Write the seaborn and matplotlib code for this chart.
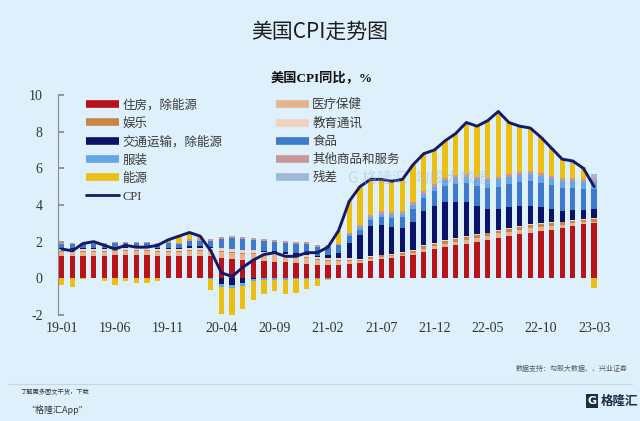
import matplotlib
matplotlib.use("Agg")
import matplotlib.pyplot as plt
from matplotlib.lines import Line2D
import numpy as np
import pandas as pd
import seaborn as sns

# monthly x-axis 2019-01 .. 2023-03
months = pd.period_range("2019-01", "2023-03", freq="M").strftime("%y-%m").tolist()
tick_labels = ["19-01", "19-06", "19-11", "20-04", "20-09", "21-02",
               "21-07", "21-12", "22-05", "22-10", "23-03"]

# CPI YoY, %
cpi = [1.6, 1.5, 1.9, 2.0, 1.8, 1.6, 1.8, 1.7, 1.7, 1.8, 2.1, 2.3,
       2.5, 2.3, 1.5, 0.3, 0.1, 0.6, 1.0, 1.3, 1.4, 1.2, 1.2, 1.4,
       1.4, 1.7, 2.6, 4.2, 5.0, 5.4, 5.4, 5.3, 5.4, 6.2, 6.8, 7.0,
       7.5, 7.9, 8.5, 8.3, 8.6, 9.1, 8.5, 8.3, 8.2, 7.7, 7.1, 6.5,
       6.4, 6.0, 5.0]

# contributions (pp)
housing = [1.2, 1.2, 1.2, 1.2, 1.2, 1.25, 1.25, 1.25, 1.25, 1.2, 1.2, 1.2,
           1.2, 1.2, 1.2, 1.1, 1.05, 1.0, 1.0, 0.95, 0.9, 0.9, 0.85, 0.8,
           0.75, 0.75, 0.75, 0.8, 0.85, 0.95, 1.05, 1.1, 1.2, 1.3, 1.45, 1.6,
           1.7, 1.8, 1.9, 2.0, 2.1, 2.2, 2.3, 2.4, 2.5, 2.6, 2.65, 2.75,
           2.85, 2.95, 3.0]
health = [0.25, 0.25, 0.25, 0.25, 0.25, 0.25, 0.25, 0.25, 0.25, 0.25, 0.25, 0.25,
          0.3, 0.3, 0.3, 0.35, 0.35, 0.35, 0.35, 0.35, 0.35, 0.3, 0.3, 0.3,
          0.25, 0.2, 0.2, 0.15, 0.1, 0.1, 0.1, 0.1, 0.1, 0.1, 0.15, 0.15,
          0.2, 0.2, 0.2, 0.2, 0.2, 0.25, 0.25, 0.25, 0.25, 0.2, 0.2, 0.15,
          0.15, 0.1, 0.1]
recreation = [0.05, 0.05, 0.05, 0.05, 0.05, 0.05, 0.05, 0.05, 0.05, 0.05, 0.05, 0.05,
              0.05, 0.05, 0.05, 0.05, 0.05, 0.05, 0.05, 0.05, 0.05, 0.05, 0.05, 0.05,
              0.05, 0.05, 0.05, 0.05, 0.05, 0.1, 0.1, 0.1, 0.1, 0.1, 0.15, 0.15,
              0.15, 0.15, 0.15, 0.15, 0.15, 0.15, 0.15, 0.15, 0.15, 0.15, 0.15, 0.15,
              0.15, 0.15, 0.15]
education = [0.1, 0.1, 0.1, 0.1, 0.1, 0.1, 0.1, 0.1, 0.1, 0.1, 0.1, 0.1,
             0.1, 0.1, 0.1, 0.15, 0.15, 0.15, 0.15, 0.1, 0.1, 0.1, 0.1, 0.1,
             0.1, 0.1, 0.1, 0.1, 0.05, 0.05, 0.05, 0.05, 0.05, 0.05, 0.05, 0.05,
             0.05, 0.05, 0.05, 0.05, 0.05, 0.05, 0.05, 0.05, 0.05, 0.05, 0.05, 0.05,
             0.05, 0.05, 0.05]
transport = [0.05, 0.05, 0.05, 0.05, 0.05, 0.05, 0.05, 0.05, 0.05, 0.05, 0.05, 0.05,
             0.1, 0.1, 0.05, -0.3, -0.35, -0.25, -0.05, 0.05, 0.1, 0.1, 0.1, 0.15,
             0.05, 0.15, 0.3, 0.85, 1.3, 1.65, 1.6, 1.45, 1.3, 1.55, 1.85, 2.0,
             2.05, 1.95, 1.85, 1.55, 1.3, 1.15, 1.15, 1.1, 1.0, 0.9, 0.75, 0.6,
             0.55, 0.5, 0.5]
food = [0.25, 0.25, 0.25, 0.25, 0.25, 0.25, 0.25, 0.25, 0.25, 0.25, 0.3, 0.25,
        0.3, 0.3, 0.35, 0.5, 0.6, 0.6, 0.55, 0.55, 0.5, 0.5, 0.5, 0.5,
        0.5, 0.45, 0.4, 0.35, 0.3, 0.35, 0.45, 0.5, 0.6, 0.7, 0.75, 0.8,
        0.9, 1.0, 1.05, 1.1, 1.15, 1.2, 1.25, 1.3, 1.35, 1.3, 1.3, 1.25,
        1.2, 1.15, 1.1]
apparel = [0.0, 0.0, 0.0, 0.0, 0.0, 0.0, 0.0, 0.0, 0.0, 0.0, 0.0, 0.0,
           0.0, 0.0, -0.05, -0.15, -0.2, -0.15, -0.1, -0.1, -0.1, -0.1, -0.05, -0.05,
           -0.05, -0.05, 0.0, 0.1, 0.15, 0.15, 0.15, 0.15, 0.15, 0.2, 0.2, 0.25,
           0.3, 0.35, 0.35, 0.35, 0.4, 0.4, 0.4, 0.4, 0.4, 0.4, 0.35, 0.35,
           0.35, 0.35, 0.35]
other = [0.05, 0.05, 0.05, 0.05, 0.05, 0.05, 0.05, 0.05, 0.05, 0.05, 0.05, 0.05,
         0.1, 0.1, 0.1, 0.1, 0.1, 0.1, 0.1, 0.1, 0.1, 0.1, 0.1, 0.1,
         0.1, 0.1, 0.1, 0.1, 0.1, 0.1, 0.15, 0.15, 0.15, 0.15, 0.15, 0.15,
         0.15, 0.15, 0.15, 0.15, 0.15, 0.15, 0.15, 0.15, 0.15, 0.15, 0.15, 0.15,
         0.15, 0.15, 0.15]
energy = [-0.35, -0.45, -0.05, 0.05, -0.15, -0.35, -0.15, -0.25, -0.25, -0.15, 0.15, 0.35,
          0.35, 0.15, -0.6, -1.5, -1.65, -1.25, -1.05, -0.75, -0.6, -0.75, -0.75, -0.55,
          -0.35, -0.05, 0.7, 1.7, 2.1, 1.95, 1.75, 1.7, 1.75, 2.05, 2.05, 1.85,
          2.0, 2.25, 2.8, 2.75, 3.1, 3.55, 2.8, 2.5, 2.35, 1.95, 1.5, 1.05,
          0.8, 0.6, -0.5]
residual = [0.0, 0.0, 0.0, 0.0, 0.0, 0.0, 0.0, 0.0, 0.0, 0.0, 0.0, 0.0,
            0.0, 0.0, 0.0, 0.0, 0.0, 0.0, 0.0, 0.0, 0.0, 0.0, 0.0, 0.0,
            0.0, 0.0, 0.0, 0.0, 0.0, 0.0, 0.0, 0.0, 0.0, 0.0, 0.0, 0.0,
            0.0, 0.0, 0.0, 0.0, 0.0, 0.0, 0.0, 0.0, 0.0, 0.0, 0.0, 0.0,
            0.15, 0.1, 0.3]

# stacking order (bottom -> top) and colours
series = [
    ("住房，除能源", housing, "#B8121B"),
    ("医疗保健", health, "#E6B48C"),
    ("娱乐", recreation, "#C98545"),
    ("教育通讯", education, "#F0D2BE"),
    ("交通运输，除能源", transport, "#0B1366"),
    ("食品", food, "#3D7ACB"),
    ("服装", apparel, "#66A6E6"),
    ("其他商品和服务", other, "#C99896"),
    ("能源", energy, "#EBC012"),
    ("残差", residual, "#9DB9D6"),
]

bg = "#DEF0FB"
line_col = "#121A6C"
serif_cjk = ["Liberation Serif", "Noto Sans CJK SC"]

sns.set_theme(style="white")
plt.rcParams["font.family"] = serif_cjk

fig = plt.figure(figsize=(6.4, 4.21), dpi=100, facecolor=bg)
ax = fig.add_axes([58 / 640, 106 / 421, 567 / 640, 220 / 421])
ax.set_facecolor(bg)

x = np.arange(len(months))
pos_bottom = np.zeros(len(x))
neg_bottom = np.zeros(len(x))
for name, vals, col in series:
    v = np.array(vals)
    bottom = np.where(v >= 0, pos_bottom, neg_bottom)
    ax.bar(x, v, bottom=bottom, width=0.5, color=col, linewidth=0)
    pos_bottom += np.where(v >= 0, v, 0)
    neg_bottom += np.where(v < 0, v, 0)

sns.lineplot(x=x, y=cpi, ax=ax, color=line_col, linewidth=2.1, zorder=5)

ax.set_xlim(-0.35, 52.9)
ax.set_ylim(-2, 10)
ax.set_yticks(range(-2, 11, 2))
ax.set_yticklabels([str(v) for v in range(-2, 11, 2)])
tick_pos = [months.index(t) for t in tick_labels]
ax.set_xticks(tick_pos)
ax.set_xticklabels(tick_labels)

for s in ["top", "right", "bottom"]:
    ax.spines[s].set_visible(False)
ax.spines["left"].set_color("#8C8C8C")
ax.spines["left"].set_linewidth(0.8)
ax.tick_params(axis="y", direction="in", length=4, color="#8C8C8C",
               labelsize=10, labelcolor="#333333", pad=11, left=True)
ax.tick_params(axis="x", length=0, labelsize=10, labelcolor="#333333", pad=5)
ax.grid(False)

# legend: two columns, column-wise fill
col1 = ["住房，除能源", "娱乐", "交通运输，除能源", "服装", "能源"]
col2 = ["医疗保健", "教育通讯", "食品", "其他商品和服务", "残差"]
colours = {name: col for name, _, col in series}
handles, labels = [], []
for nm in col1:
    handles.append(Line2D([0], [0], color=colours[nm], lw=5.5, solid_capstyle="butt"))
    labels.append(nm)
handles.append(Line2D([0], [0], color=line_col, lw=2.0))
labels.append("CPI")
for nm in col2:
    handles.append(Line2D([0], [0], color=colours[nm], lw=5.5, solid_capstyle="butt"))
    labels.append(nm)

leg = fig.legend(handles, labels, ncol=2, loc="upper left",
                 bbox_to_anchor=(86 / 640, 1 - 99 / 421), frameon=False,
                 borderpad=0, borderaxespad=0, handlelength=2.6,
                 handletextpad=0.3, labelspacing=0.49, columnspacing=4.3,
                 prop={"family": serif_cjk, "size": 9})
for t in leg.get_texts():
    t.set_color("#3A3A3A")

# titles
fig.text(0.5, 1 - 32 / 421, "美国CPI走势图", ha="center", va="center",
         fontsize=15, color="#1E1E1E", family=["Noto Sans CJK SC"])
fig.text(322 / 640, 1 - 78 / 421, "美国CPI同比，%", ha="center", va="center",
         fontsize=9.5, fontweight="bold", color="#111111", family=serif_cjk)

# faint watermark
fig.text(348 / 640, 1 - 178 / 421, "G 格隆汇  勾股大数据", ha="left", va="center",
         fontsize=11, color="#9FBCD8", alpha=0.45, family=["Noto Sans CJK SC"], zorder=0)

# footer
fig.text(628 / 640, 1 - 369 / 421, "数据支持：勾股大数据、、兴业证券", ha="right", va="center",
         fontsize=5, color="#555555", family=["Noto Sans CJK SC"])
fig.add_artist(Line2D([8 / 640, 632 / 640], [1 - 384 / 421, 1 - 384 / 421],
                      color="#C8D4DC", lw=0.8, transform=fig.transFigure))
fig.text(20 / 640, 1 - 392 / 421, "了解更多图文干货，下载", ha="left", va="center",
         fontsize=4.5, color="#333333", style="italic", family=["Noto Sans CJK SC"])
fig.text(26 / 640, 1 - 410 / 421, "“格隆汇App”", ha="left", va="center",
         fontsize=6.5, color="#333333", style="italic", family=["Noto Sans CJK SC"])
fig.text(592 / 640, 1 - 401 / 421, "G", ha="center", va="center", fontsize=8,
         fontweight="bold", color="white", family=["DejaVu Sans"],
         bbox=dict(boxstyle="square,pad=0.15", fc="#1F2A44", ec="none"))
fig.text(601 / 640, 1 - 401 / 421, "格隆汇", ha="left", va="center", fontsize=9,
         fontweight="bold", color="#1F2A44", family=["Noto Sans CJK SC"])

fig.savefig("out.png", dpi=100, facecolor=bg)
